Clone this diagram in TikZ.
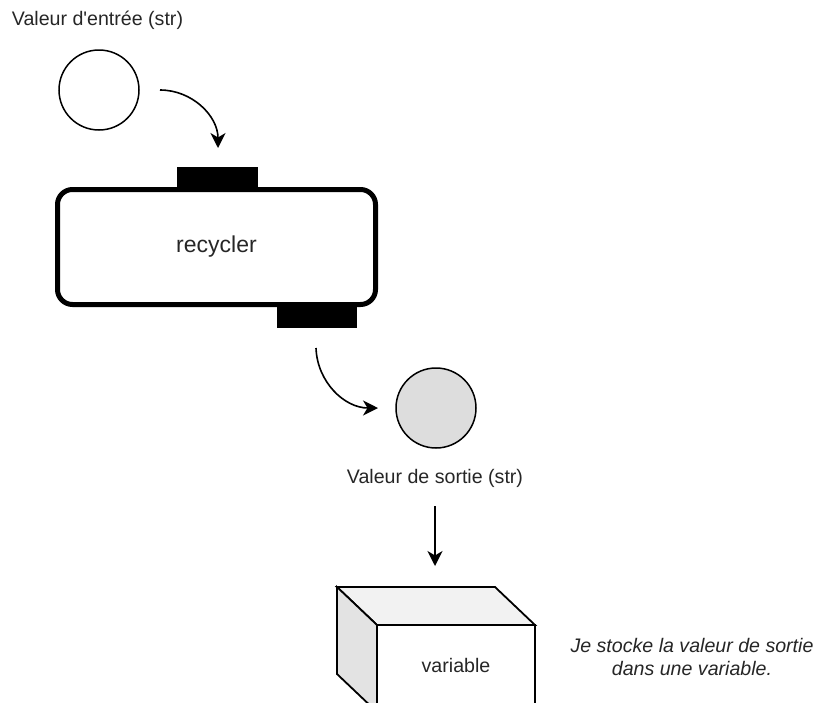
\documentclass[tikz,border=0pt]{standalone}
\usepackage{fontspec}
\setmainfont{Liberation Sans}
\usetikzlibrary{arrows.meta}
\definecolor{outfill}{HTML}{DDDDDD}
\definecolor{topface}{HTML}{F2F2F2}
\definecolor{sideface}{HTML}{E3E3E3}
\tikzset{
  lbl/.style={inner sep=0pt, font=\fontsize{19.6}{23}\selectfont, text=black!85},
  val/.style={circle, draw, line width=1.5pt, minimum size=80pt, inner sep=0pt},
  flow/.style={line width=1.6pt, -{Stealth[length=15pt, width=15pt, inset=4.5pt]}},
  tab/.style={fill=black, draw=none},
  face/.style={draw, line width=1.8pt, line join=miter},
}
\begin{document}
\begin{tikzpicture}[x=1pt, y=-1pt]
\useasboundingbox (0,0) rectangle (816,702);

% input value
\node[lbl] (inlbl) at (97.5,20) {Valeur d\textquotesingle entrée (str)};
\node[val] (in) at (99,90) {};

% recycler with its inlet and outlet
\fill[tab] (177,167) rectangle (258,190);
\fill[tab] (277,304) rectangle (357,328);
\node[draw, line width=5pt, rounded corners=15pt, minimum width=318pt,
      minimum height=115pt, inner sep=0pt,
      font=\fontsize{23}{26}\selectfont, text=black!85] (rec) at (216.5,247) {recycler};
\coordinate (inlet) at (218,148);
\coordinate (outlet) at (316,348);

% output value
\node[val, fill=outfill] (out) at (436,408) {};
\node[lbl] (outlbl) at (435,478) {Valeur de sortie (str)};

% arrows
\coordinate (a1) at (160,90);
\draw[flow] (a1) to[out=0, in=90] (inlet);
\coordinate (a2) at (378,408);
\draw[flow] (outlet) to[out=-88, in=180] (a2);
\coordinate (a3s) at (435,506);
\coordinate (a3e) at (435,566);
\draw[flow] (a3s) -- (a3e);

% variable box (cut off by the lower edge)
\begin{scope}
\clip (0,0) rectangle (816,702);
\filldraw[face, fill=topface] (337,587) -- (495,587) -- (535,625) -- (377,625) -- cycle;
\filldraw[face, fill=sideface] (337,587) -- (377,625) -- (377,712) -- (337,674) -- cycle;
\filldraw[face, fill=white] (377,625) rectangle (535,712);
\end{scope}
\node[lbl] (var) at (456,665) {variable};

% note
\node[lbl, align=center, font=\fontsize{19.6}{23}\selectfont\itshape] (note) at (692,657)
  {Je stocke la valeur de sortie\\dans une variable.};
\end{tikzpicture}
\end{document}
